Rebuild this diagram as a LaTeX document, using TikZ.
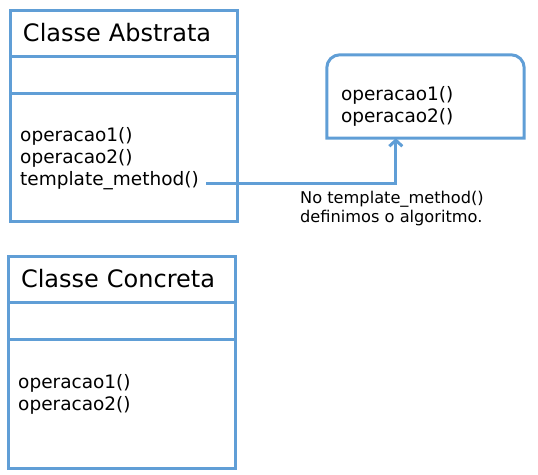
\documentclass[tikz,border=0pt]{standalone}
\usepackage{fontspec}
\setmainfont{DejaVu Sans}
\usetikzlibrary{arrows.meta,positioning}
\definecolor{umlblue}{RGB}{96,158,214}

\begin{document}
\begin{tikzpicture}[x=1pt, y=-1pt,
        cpart/.style={draw=umlblue, line width=3pt, minimum width=227pt, inner sep=0pt, outer sep=0pt},
        cname/.style={cpart, minimum height=46pt, align=left, text width=201pt, font=\fontsize{24}{29}\selectfont},
        cattr/.style={cpart, minimum height=37pt},
        cops/.style={cpart, minimum height=128pt},
        optext/.style={align=left, inner sep=0pt, font=\fontsize{18.5}{22}\selectfont},
        notetext/.style={align=left, inner sep=0pt, font=\fontsize{16.2}{19}\selectfont},
        link/.style={draw=umlblue, line width=3pt}, >={Straight Barb[length=6pt, width=13pt]}]

        \useasboundingbox (0,0) rectangle (538,474);

        \node[cname] (absname) at (123.5,33) {Classe Abstrata};
        \node[cattr, below=0pt of absname] (absattr) {};
        \node[cops, below=0pt of absattr] (absops) {};
        \node[optext, anchor=north west] (absmeth) at ([xshift=10pt, yshift=-34.5pt]absops.north west)
            {operacao1()\\operacao2()\\template\_method()};

        \node[cname, below=35pt of absops, xshift=-2pt] (conname) {Classe Concreta};
        \node[cattr, below=0pt of conname] (conattr) {};
        \node[cops, minimum height=129pt, below=0pt of conattr] (conops) {};
        \node[optext, anchor=north west] (conmeth) at ([xshift=10pt, yshift=-35pt]conops.north west)
            {operacao1()\\operacao2()};

        \node[minimum width=197pt, minimum height=83pt, inner sep=0pt] (iface) at (425.5,96.5) {};
        \draw[link] (iface.south west) [rounded corners=13pt] -- (iface.north west) -- (iface.north east)
            [sharp corners] -- (iface.south east) -- cycle;
        \node[optext, anchor=north west] (ifmeth) at ([xshift=14pt, yshift=-31pt]iface.north west)
            {operacao1()\\operacao2()};

        \coordinate (hook) at ([xshift=7pt, yshift=7pt]absmeth.south east);
        \draw[link, ->] (hook) -| ([xshift=69pt]iface.south west);

        \node[notetext, anchor=north west] (note) at (300,191) {No template\_method()\\definimos o algoritmo.};

    \end{tikzpicture}
\end{document}
